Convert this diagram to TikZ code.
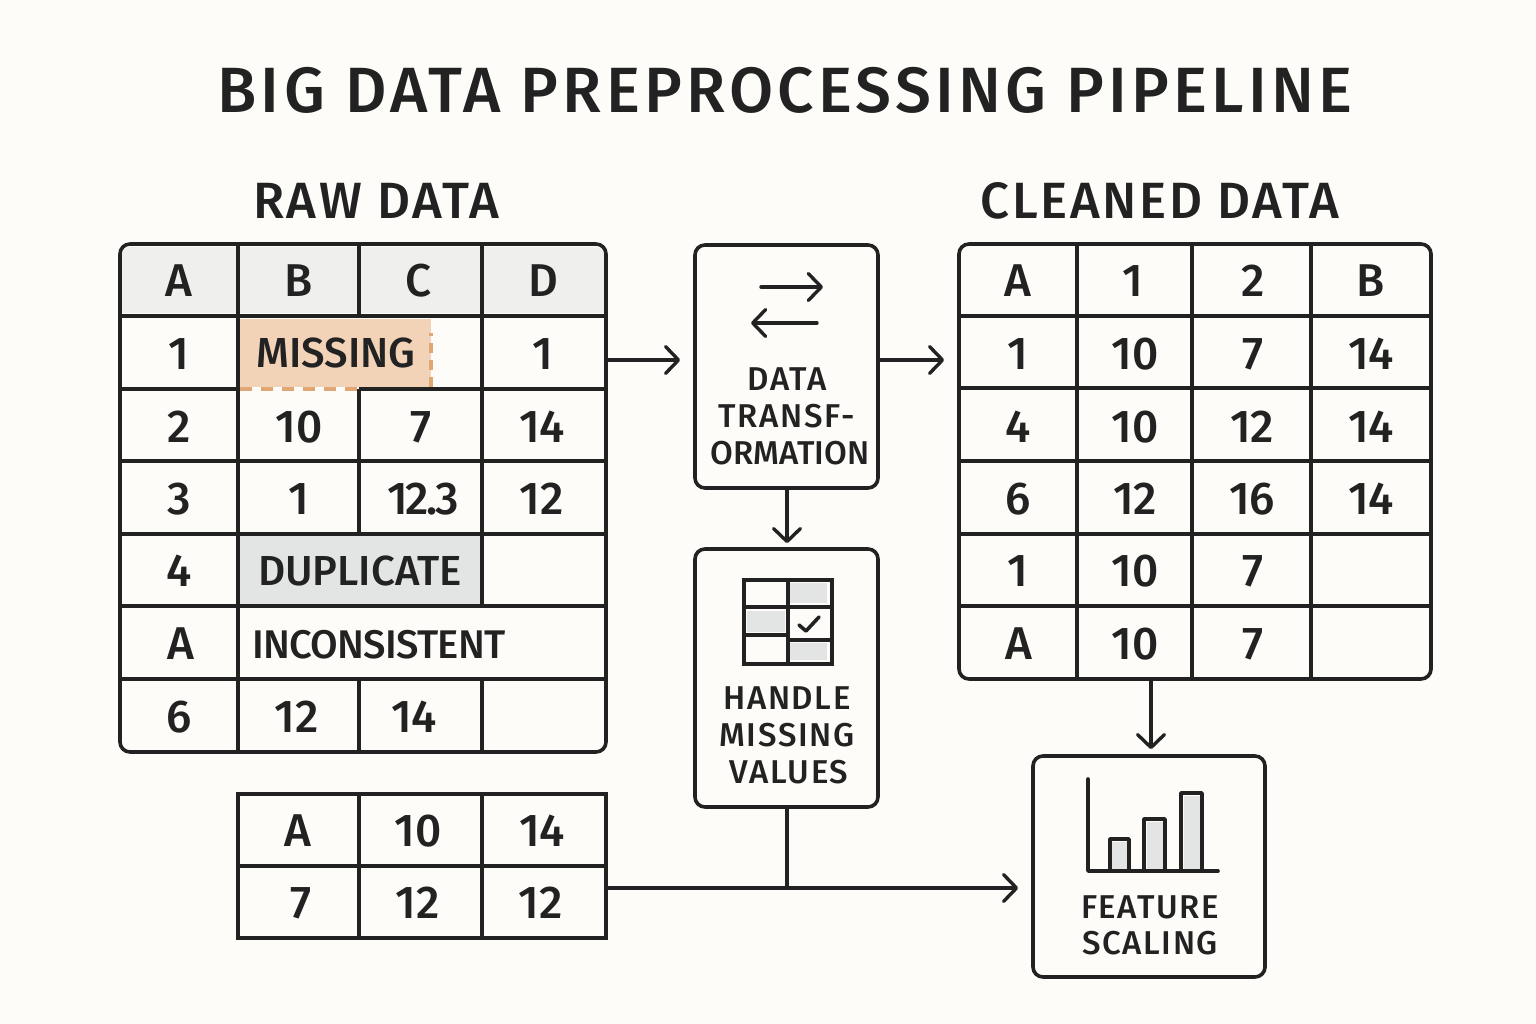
\documentclass[tikz,border=0pt]{standalone}
\usepackage{fontspec}
\setmainfont{Fira Sans}[UprightFont=* Medium]
\newfontface\titlefont{Fira Sans Medium}[LetterSpace=6.6]
\newfontface\headfont{Fira Sans Medium}[LetterSpace=5]
\newfontface\labfont{Fira Sans Medium}[LetterSpace=5]
\newfontface\tightfont{Fira Sans Medium}[LetterSpace=-2]
\newfontface\closefont{Fira Sans Medium}[LetterSpace=-6]
\usetikzlibrary{arrows.meta,calc}
\definecolor{ink}{HTML}{222222}
\definecolor{paper}{HTML}{FDFCF8}
\definecolor{headc}{HTML}{EFEFED}
\definecolor{peach}{HTML}{F3D3B8}
\definecolor{dashc}{HTML}{E0A673}
\definecolor{greyf}{HTML}{E3E5E4}
\newcommand{\fs}[1]{\fontsize{#1}{#1}\selectfont}
\tikzset{
  x=1pt,y=-1pt,
  tline/.style={draw=ink,line width=3.6pt,line cap=butt},
  frame/.style={draw=ink,line width=3.6pt,rounded corners=10pt,inner sep=0pt,anchor=center},
  sqframe/.style={draw=ink,line width=3.6pt,inner sep=0pt,anchor=center},
  cell/.style={text=ink,inner sep=0pt,text height=32pt,text depth=0pt,anchor=center,yshift=1pt,font=\fs{46}},
  word/.style={text=ink,inner sep=0pt,text height=30pt,text depth=0pt,anchor=center,yshift=1pt,font=\fs{42}},
  lab/.style={text=ink,inner sep=0pt,text height=23pt,text depth=0pt,anchor=center,font=\labfont\fs{33}},
  heading/.style={text=ink,inner sep=0pt,text height=36pt,text depth=0pt,anchor=center,font=\headfont\fs{51}},
  arr/.style={draw=ink,line width=3.4pt,line cap=round,-{Straight Barb[length=13pt,width=27pt,round]}},
  link/.style={draw=ink,line width=3.4pt,line cap=round},
  icon/.style={draw=ink,line width=3.6pt},
}
\begin{document}
\begin{tikzpicture}
\useasboundingbox (0,0) rectangle (1536,1024);
\fill[paper] (0,0) rectangle (1536,1024);

% titles
\node[text=ink,inner sep=0pt,text height=44pt,text depth=0pt,font=\titlefont\fs{64}] (title) at (785,91) {BIG DATA PREPROCESSING PIPELINE};
\node[heading] (rawtitle) at (376,201) {RAW DATA};
\node[heading] (cleantitle) at (1160,201) {CLEANED DATA};

% raw table fills
\fill[headc] (122,255) rectangle (604,313);
\fill[headc] (130,247) rectangle (596,256);
\fill[headc] (130,255) circle[radius=8] (596,255) circle[radius=8];
\fill[peach] (240,319) rectangle (431,387);
\fill[greyf] (240,536) rectangle (481,605);
\draw[draw=dashc,line width=3.4pt,dash pattern=on 10pt off 7pt] (431,387) -- (431,333);
\draw[draw=dashc,line width=3.6pt,dash pattern=on 12pt off 9pt] (240,389) -- (358,389);

% raw table grid
\draw[tline] (120,316) -- (606,316);
\draw[tline] (120,389) -- (238,389) (359,389) -- (606,389);
\draw[tline] (120,461) -- (606,461);
\draw[tline] (120,534) -- (606,534);
\draw[tline] (120,606) -- (606,606);
\draw[tline] (120,679) -- (606,679);
\draw[tline] (238,244) -- (238,752);
\draw[tline] (359,244) -- (359,316) (359,389) -- (359,534) (359,679) -- (359,752);
\draw[tline] (482,244) -- (482,606) (482,679) -- (482,752);
\node[frame,minimum width=486pt,minimum height=508pt] (raw) at (363,498) {};

% raw table text
\foreach \n/\x/\y/\t in {
 ra/179/282/A, rb/299/282/B, rc/419/282/C, rd/543/282/D,
 r1a/179/354/1, r1d/543/354/1,
 r2a/179/427/2, r2b/299/427/10, r2c/421/427/7, r2d/542/427/14,
 r3a/179/499/3, r3b/299/499/1, r3d/542/499/12,
 r4a/179/571/4,
 r5a/181/644/A,
 r6a/179/717/6, r6b/297/717/12, r6c/414/717/14}
 \node[cell] (\n) at (\x,\y) {\t};
\node[cell,font=\closefont\fs{46}] (r3c) at (423,499) {12.3};
\node[word] (rmiss) at (336,353) {MISSING};
\node[word] (rdup) at (360,571) {DUPLICATE};
\node[word,font=\tightfont\fs{40}] (rinc) at (379,644) {INCONSISTENT};

% cleaned table
\draw[tline] (959,316) -- (1431,316) (959,388) -- (1431,388) (959,461) -- (1431,461) (959,534) -- (1431,534) (959,606) -- (1431,606);
\draw[tline] (1077,244) -- (1077,679) (1192,244) -- (1192,679) (1311,244) -- (1311,679);
\node[frame,minimum width=472pt,minimum height=435pt] (clean) at (1195,461.5) {};
\foreach \n/\x/\y/\t in {
 ca/1018/282/A, cb/1133/282/1, cc/1253/282/2, cd/1371/282/B,
 c1a/1018/354/1, c1b/1135/354/10, c1c/1253/354/7, c1d/1371/354/14,
 c2a/1018/427/4, c2b/1135/427/10, c2c/1252/427/12, c2d/1371/427/14,
 c3a/1018/499/6, c3b/1135/499/12, c3c/1252/499/16, c3d/1371/499/14,
 c4a/1018/571/1, c4b/1135/571/10, c4c/1253/571/7,
 c5a/1019/644/A, c5b/1135/644/10, c5c/1253/644/7}
 \node[cell] (\n) at (\x,\y) {\t};

% bottom table
\draw[tline] (238,866) -- (606,866);
\draw[tline] (359,794) -- (359,938) (482,794) -- (482,938);
\node[sqframe,minimum width=368pt,minimum height=144pt] (low) at (422,866) {};
\foreach \n/\x/\y/\t in {
 la/298/831/A, lb/418/831/10, lc/542/831/14,
 ld/301/903/7, le/418/903/12, lf/541/903/12}
 \node[cell] (\n) at (\x,\y) {\t};

% process boxes
\node[frame,minimum width=183pt,minimum height=243pt] (xform) at (786.5,366.5) {};
\node[frame,minimum width=183pt,minimum height=258pt] (handle) at (786.5,678) {};
\node[frame,minimum width=232pt,minimum height=221pt] (scalebox) at (1149,866.5) {};

% icon: exchange arrows
\draw[arr] (761,287) -- (823,287);
\draw[arr] (817,323) -- (751,323);
\node[lab] (xf1) at (787,379) {DATA};
\node[lab] (xf2) at (787,416) {TRANSF-};
\node[lab,font=\fs{33}] (xf3) at (790,453) {ORMATION};

% icon: table with check
\fill[greyf] (790,583) rectangle (827,603);
\fill[greyf] (747,611) rectangle (785,632);
\fill[greyf] (790,643) rectangle (827,660);
\draw[icon] (744,580) rectangle (832,664);
\draw[icon] (788,580) -- (788,664);
\draw[icon] (744,607) -- (832,607);
\draw[icon] (744,635) -- (788,635);
\draw[icon] (788,640) -- (832,640);
\draw[draw=ink,line width=3.6pt,line cap=round,line join=round] (799,625) -- (806,631) -- (819,617);
\node[lab] (hm1) at (787,698) {HANDLE};
\node[lab] (hm2) at (787,735) {MISSING};
\node[lab] (hm3) at (789,772) {VALUES};

% icon: bar chart
\fill[greyf] (1112,842) rectangle (1127,870);
\fill[greyf] (1147,822) rectangle (1163,870);
\fill[greyf] (1184,796) rectangle (1200,870);
\draw[icon,line join=round] (1110,871) -- (1110,839) -- (1129,839) -- (1129,871);
\draw[icon,line join=round] (1144,871) -- (1144,819) -- (1165,819) -- (1165,871);
\draw[icon,line join=round] (1181,871) -- (1181,793) -- (1202,793) -- (1202,871);
\draw[icon,line cap=round,line join=round] (1088,779) -- (1088,871) -- (1218,871);
\node[lab] (fs1) at (1150,907) {FEATURE};
\node[lab] (fs2) at (1150,943) {SCALING};

% connectors
\coordinate (ya) at (0,360);
\coordinate (yb) at (0,888);
\coordinate (xa) at (787,0);
\coordinate (xb) at (1151,0);
\coordinate (junction) at (xa |- yb);
\draw[arr,shorten >=13pt] (raw.east |- ya) -- (xform.west |- ya);
\draw[arr,shorten >=13pt] (xform.east |- ya) -- (clean.west |- ya);
\draw[arr,shorten >=4pt] (xform.south -| xa) -- (handle.north -| xa);
\draw[arr,shorten >=5pt] (clean.south -| xb) -- (scalebox.north -| xb);
\draw[arr,shorten >=13pt] (low.east |- yb) -- (scalebox.west |- yb);
\draw[link] (handle.south -| xa) -- (junction);
\end{tikzpicture}
\end{document}
